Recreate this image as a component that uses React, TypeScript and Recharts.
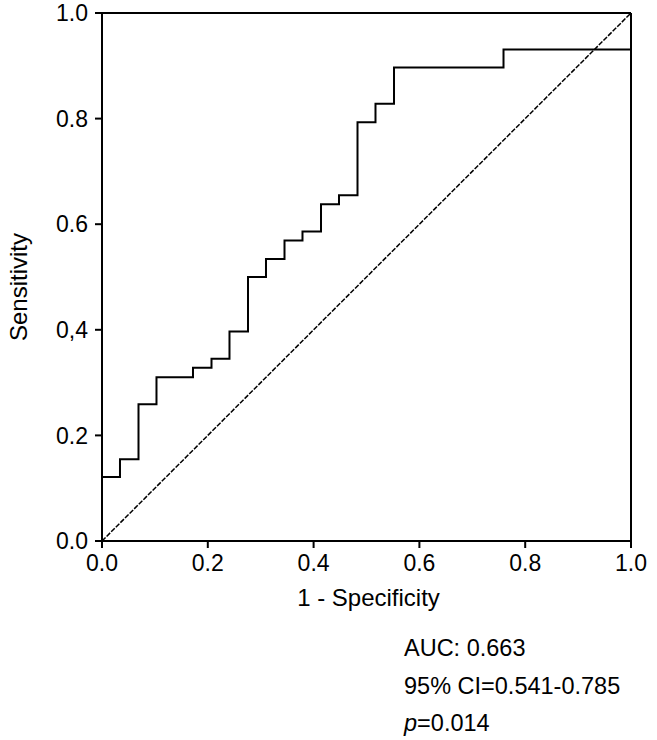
import { LineChart, Line, XAxis, YAxis, Label, ReferenceLine } from 'recharts'

// ROC curve points (1 - specificity, sensitivity)
const fpr = [0, 0, 0.034, 0.069, 0.103, 0.172, 0.207, 0.241, 0.276, 0.310, 0.345, 0.379, 0.414, 0.448, 0.483, 0.517, 0.552, 0.759, 1.0]
const sensitivity = [0, 0.121, 0.155, 0.259, 0.310, 0.328, 0.345, 0.397, 0.500, 0.534, 0.569, 0.586, 0.638, 0.655, 0.793, 0.828, 0.897, 0.931, 1.0]

const refFpr = [0, 1]
const refSens = [0, 1]

const axisTicks = [0, 0.2, 0.4, 0.6, 0.8, 1.0]
const xTickLabels = ['0.0', '0.2', '0.4', '0.6', '0.8', '1.0']
const yTickLabels = ['0.0', '0.2', '0,4', '0.6', '0.8', '1.0']

const annotations = ['AUC: 0.663', '95% CI=0.541-0.785']
const pValue = '0.014'

const rocData = fpr.map((x, i) => ({ fpr: x, sens: sensitivity[i] }))
const refData = refFpr.map((x, i) => ({ fpr: x, sens: refSens[i] }))

const FONT = '"Liberation Sans", Arial, Helvetica, sans-serif'
const INK = '#000'

function fmtTick(labels: string[]) {
  return (v: number) => labels[axisTicks.findIndex((t) => Math.abs(t - v) < 1e-6)] ?? String(v)
}

export default function App() {
  return (
    <div style={{ position: 'absolute', left: 0, top: 0, background: '#fff' }}>
      <LineChart width={657} height={740} margin={{ top: 13, right: 26, bottom: 135, left: 0 }}>
        <XAxis
          dataKey="fpr" type="number" domain={[0, 1]} ticks={axisTicks}
          tickFormatter={fmtTick(xTickLabels)} height={64}
          tickSize={7} tickMargin={7} stroke={INK} strokeWidth={2}
          tick={{ fontSize: 23, fill: INK, fontFamily: FONT }}
        >
          <Label
            content={({ viewBox }: any) => {
              const cx = viewBox.x + viewBox.width / 2
              return (
                <g style={{ fontFamily: FONT, fill: INK }}>
                  <text x={cx + 2} y={viewBox.y + viewBox.height + 1} textAnchor="middle" fontSize={24}>
                    1 - Specificity
                  </text>
                  {annotations.map((t, i) => (
                    <text key={t} x={404} y={656 + i * 38} fontSize={23.5}>{t}</text>
                  ))}
                  <text x={404} y={731} fontSize={23.5}>
                    <tspan fontStyle="italic">p</tspan>={pValue}
                  </text>
                </g>
              )
            }}
          />
        </XAxis>
        <YAxis
          type="number" domain={[0, 1]} ticks={axisTicks} tickFormatter={fmtTick(yTickLabels)}
          width={102} tickSize={7} tickMargin={7} stroke={INK} strokeWidth={2}
          tick={{ fontSize: 23, fill: INK, fontFamily: FONT }}
        >
          <Label
            content={({ viewBox }: any) => (
              <text
                x={18} y={viewBox.y + viewBox.height / 2 + 10}
                transform={`rotate(-90 18 ${viewBox.y + viewBox.height / 2 + 10})`}
                textAnchor="middle" dominantBaseline="central"
                fontSize={24} fontFamily={FONT} fill={INK}
              >
                Sensitivity
              </text>
            )}
          />
        </YAxis>
        {/* frame on the top and right sides */}
        <ReferenceLine y={1} stroke={INK} strokeWidth={2} />
        <ReferenceLine x={1} stroke={INK} strokeWidth={2} />
        <Line data={refData} dataKey="sens" type="linear" stroke={INK} strokeWidth={1.5}
          strokeDasharray="5 1.5" dot={false} activeDot={false} isAnimationActive={false} />
        <Line data={rocData} dataKey="sens" type="stepAfter" stroke={INK} strokeWidth={2}
          dot={false} activeDot={false} isAnimationActive={false} />
      </LineChart>
    </div>
  )
}
